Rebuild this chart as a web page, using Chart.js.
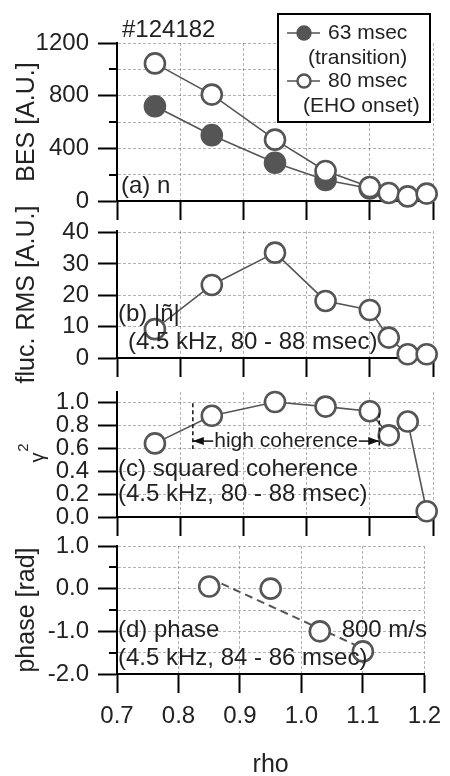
<!DOCTYPE html>
<html>
<head>
<meta charset="utf-8">
<script src="https://cdn.jsdelivr.net/npm/chart.js@4.4.1/dist/chart.umd.min.js"></script>
<style>
  html, body { margin: 0; background: #fff; }
  #wrap { position: relative; width: 450px; height: 776px; }
  #wrap canvas { position: absolute; left: 0; top: 0; }
</style>
</head>
<body>
<div id="wrap">
  <canvas id="panelA" width="450" height="776"></canvas>
  <canvas id="panelB" width="450" height="776"></canvas>
  <canvas id="panelC" width="450" height="776"></canvas>
  <canvas id="panelD" width="450" height="776"></canvas>
</div>
<script>
// values
const rho = [0.76, 0.85, 0.95, 1.03, 1.10, 1.13, 1.16, 1.19];
const bes63 = [720, 500, 290, 160, 95];
const bes80 = [1045, 808, 466, 228, 106, 61, 35, 56];
const rmsFluc = [9.2, 23.3, 33.6, 18.2, 15.3, 6.5, 1.2, 1.2];
const coherence = [0.64, 0.88, 1.0, 0.96, 0.92, 0.71, 0.83, 0.05];
const phaseRho = [0.85, 0.95, 1.03, 1.10];
const phase = [0.05, 0.0, -1.0, -1.47];
const fitRho = [0.87, 1.115];      // 800 m/s line
const fitPhase = [0.12, -1.5];
const highCohRho = [0.82, 1.115];  // edges of the high coherence range
const highCohTop = [0.99, 0.90];
const highCohLevel = 0.66;

// tick values
const rhoTicks = [0.7, 0.8, 0.9, 1.0, 1.1, 1.2];
const besTicks = [0, 200, 400, 600, 800, 1000, 1200];
const rmsTicks = [0, 10, 20, 30, 40];
const cohTicks = [0, 0.2, 0.4, 0.6, 0.8, 1.0];
const phaseTicks = [-2, -1.5, -1, -0.5, 0, 0.5, 1];

const FONT = "'Liberation Sans', Arial, Helvetica, sans-serif";
const INK = '#222';
const MARK = '#555';
const GRID = 'rgba(0,0,0,0.3)';
const W = 450, H = 776;
const plotLeft = 117, plotRight = 433;

function pts(xs, ys) {
  return ys.map((y, i) => ({x: xs[i], y: y}));
}

const openStyle = {
  borderColor: MARK, borderWidth: 1.6,
  pointRadius: 10, pointBorderWidth: 2.6,
  pointBorderColor: MARK, pointBackgroundColor: '#fff',
  clip: false
};
const filledStyle = Object.assign({}, openStyle, {pointBackgroundColor: MARK});

// short ticks for the unlabelled values
const minorTicks = {
  id: 'minorTicks',
  afterDraw(chart) {
    const y = chart.scales.y, ctx = chart.ctx;
    ctx.save();
    ctx.strokeStyle = '#000';
    ctx.lineWidth = 2;
    y.ticks.forEach(t => {
      if (t.label !== '') return;
      const py = Math.round(y.getPixelForValue(t.value));
      ctx.beginPath();
      ctx.moveTo(y.right - 8, py);
      ctx.lineTo(y.right, py);
      ctx.stroke();
    });
    ctx.restore();
  }
};

function notes(items) {
  return {
    id: 'notes',
    afterDraw(chart) {
      const ctx = chart.ctx;
      ctx.save();
      ctx.fillStyle = INK;
      ctx.textBaseline = 'middle';
      items.forEach(it => {
        ctx.font = (it.size || 24) + 'px ' + FONT;
        ctx.textAlign = it.align || 'left';
        ctx.fillText(it.text, it.x, it.y);
      });
      ctx.restore();
    }
  };
}

const legendBox = {
  id: 'legendBox',
  afterDraw(chart) {
    const ctx = chart.ctx;
    ctx.save();
    ctx.fillStyle = '#fff';
    ctx.fillRect(278, 14, 152, 108);
    ctx.strokeStyle = '#000';
    ctx.lineWidth = 2;
    ctx.strokeRect(278, 14, 152, 108);
    const rows = [
      {y: 33, fill: MARK, l1: '63 msec', l2: '(transition)', x2: 308},
      {y: 81, fill: '#fff', l1: '80 msec', l2: '(EHO onset)', x2: 303}
    ];
    rows.forEach(r => {
      ctx.strokeStyle = MARK;
      ctx.lineWidth = 1.6;
      ctx.beginPath();
      ctx.moveTo(287, r.y);
      ctx.lineTo(320, r.y);
      ctx.stroke();
      ctx.beginPath();
      ctx.arc(304, r.y, 6.5, 0, Math.PI * 2);
      ctx.fillStyle = r.fill;
      ctx.fill();
      ctx.lineWidth = 2.4;
      ctx.stroke();
      ctx.fillStyle = INK;
      ctx.font = '21px ' + FONT;
      ctx.textBaseline = 'middle';
      ctx.textAlign = 'left';
      ctx.fillText(r.l1, 328, r.y);
      ctx.fillText(r.l2, r.x2, r.y + 25);
    });
    ctx.restore();
  }
};

// gamma^2 axis title, with a raised 2
const gammaTitle = {
  id: 'gammaTitle',
  afterDraw(chart) {
    const ctx = chart.ctx, a = chart.chartArea;
    ctx.save();
    ctx.translate(40, (a.top + a.bottom) / 2 + 3);
    ctx.rotate(-Math.PI / 2);
    ctx.fillStyle = INK;
    ctx.textAlign = 'center';
    ctx.textBaseline = 'alphabetic';
    ctx.font = '20px ' + FONT;
    ctx.fillText('γ', 0, 4);
    ctx.font = '15px ' + FONT;
    ctx.fillText('2', 10, -12);
    ctx.restore();
  }
};

const cohBand = {
  id: 'cohBand',
  afterDatasetsDraw(chart) {
    const x = chart.scales.x, y = chart.scales.y, ctx = chart.ctx;
    const xl = x.getPixelForValue(highCohRho[0]);
    const xr = x.getPixelForValue(highCohRho[1]);
    const ya = y.getPixelForValue(highCohLevel);
    ctx.save();
    ctx.strokeStyle = '#111';
    ctx.lineWidth = 1.5;
    ctx.setLineDash([4, 3]);
    [[xl, highCohTop[0]], [xr, highCohTop[1]]].forEach(p => {
      ctx.beginPath();
      ctx.moveTo(p[0], y.getPixelForValue(p[1]));
      ctx.lineTo(p[0], ya + 8);
      ctx.stroke();
    });
    ctx.setLineDash([]);
    ctx.font = '21px ' + FONT;
    const label = 'high coherence';
    const tw = ctx.measureText(label).width;
    const xm = (xl + xr) / 2;
    ctx.fillStyle = INK;
    ctx.textAlign = 'center';
    ctx.textBaseline = 'middle';
    ctx.fillText(label, xm, ya);
    const segs = [[xl, xm - tw / 2 - 1, 1], [xr, xm + tw / 2 + 1, -1]];
    ctx.fillStyle = '#111';
    segs.forEach(s => {
      ctx.beginPath();
      ctx.moveTo(s[0], ya);
      ctx.lineTo(s[1], ya);
      ctx.stroke();
      ctx.beginPath();
      ctx.moveTo(s[0], ya);
      ctx.lineTo(s[0] + 11 * s[2], ya - 4);
      ctx.lineTo(s[0] + 11 * s[2], ya + 4);
      ctx.closePath();
      ctx.fill();
    });
    ctx.restore();
  }
};

function panel(id, cfg) {
  const xh = cfg.showX ? H - cfg.bottom : 20;
  return new Chart(document.getElementById(id), {
    type: 'line',
    data: {datasets: cfg.datasets},
    options: {
      responsive: false,
      animation: false,
      events: [],
      layout: {padding: {top: cfg.top, left: 0, right: W - plotRight, bottom: H - cfg.bottom - xh}},
      plugins: {legend: {display: false}, tooltip: {enabled: false}},
      scales: {
        x: {
          type: 'linear', min: 0.7, max: 1.2,
          afterBuildTicks: s => { s.ticks = rhoTicks.map(v => ({value: v})); },
          afterFit: s => { s.height = xh; },
          grid: {color: GRID, lineWidth: 1, tickLength: 19, tickColor: '#000', tickWidth: 2},
          border: {color: '#000', width: 2, dash: [3, 2]},
          ticks: {
            display: !!cfg.showX, autoSkip: false, maxRotation: 0, padding: 9,
            color: INK, font: {family: FONT, size: 24},
            callback: v => v.toFixed(1)
          },
          title: {
            display: !!cfg.showX, text: 'rho', color: INK,
            font: {family: FONT, size: 25, lineHeight: 0.9}, padding: 0
          }
        },
        y: {
          type: 'linear', min: cfg.min, max: cfg.max,
          afterBuildTicks: s => { s.ticks = cfg.ticks.map(v => ({value: v})); },
          afterFit: s => { s.width = plotLeft; },
          grid: {
            color: GRID, lineWidth: 1, tickLength: 19, tickWidth: 2,
            tickColor: c => (c.tick && cfg.isMajor(c.tick.value)) ? '#000' : 'rgba(0,0,0,0)'
          },
          border: {color: '#000', width: 2, dash: [3, 2]},
          ticks: {
            autoSkip: false, padding: 9, color: INK, font: {family: FONT, size: 24},
            callback: v => cfg.isMajor(v) ? cfg.fmt(v) : ''
          },
          title: {
            display: !!cfg.title, text: cfg.title || '', color: INK,
            font: {family: FONT, size: 25}, padding: 12
          }
        }
      }
    },
    plugins: [minorTicks, notes(cfg.notes)].concat(cfg.extra || [])
  });
}

panel('panelA', {
  top: 43, bottom: 201, min: 0, max: 1200, ticks: besTicks,
  isMajor: v => v % 400 === 0, fmt: v => String(v),
  title: 'BES [A.U.]',
  datasets: [
    Object.assign({data: pts(rho, bes80)}, openStyle),
    Object.assign({data: pts(rho, bes63)}, filledStyle)
  ],
  notes: [
    {text: '#124182', x: 122, y: 30},
    {text: '(a) n', x: 121, y: 186}
  ],
  extra: [legendBox]
});

panel('panelB', {
  top: 231, bottom: 358, min: 0, max: 40.5, ticks: rmsTicks,
  isMajor: () => true, fmt: v => String(v),
  title: 'fluc. RMS [A.U.]',
  datasets: [Object.assign({data: pts(rho, rmsFluc)}, openStyle)],
  notes: [
    {text: '(b) |ñ|', x: 118, y: 314},
    {text: '(4.5 kHz, 80 - 88 msec)', x: 128, y: 342}
  ]
});

panel('panelC', {
  top: 392, bottom: 517, min: 0, max: 1.087, ticks: cohTicks,
  isMajor: () => true, fmt: v => v.toFixed(1),
  datasets: [Object.assign({data: pts(rho, coherence)}, openStyle)],
  notes: [
    {text: '(c) squared coherence', x: 118, y: 469},
    {text: '(4.5 kHz, 80 - 88 msec)', x: 118, y: 494}
  ],
  extra: [cohBand, gammaTitle]
});

panel('panelD', {
  top: 546, bottom: 674, min: -2, max: 1, ticks: phaseTicks, showX: true,
  isMajor: v => Number.isInteger(v), fmt: v => v.toFixed(1),
  title: 'phase [rad]',
  datasets: [
    Object.assign({data: pts(phaseRho, phase), showLine: false}, openStyle),
    {data: pts(fitRho, fitPhase), borderColor: MARK, borderWidth: 2, borderDash: [8, 5], pointRadius: 0, clip: false}
  ],
  notes: [
    {text: '(d) phase', x: 118, y: 630},
    {text: '800 m/s', x: 427, y: 630, align: 'right'},
    {text: '(4.5 kHz, 84 - 86 msec)', x: 118, y: 658}
  ]
});
</script>
</body>
</html>
